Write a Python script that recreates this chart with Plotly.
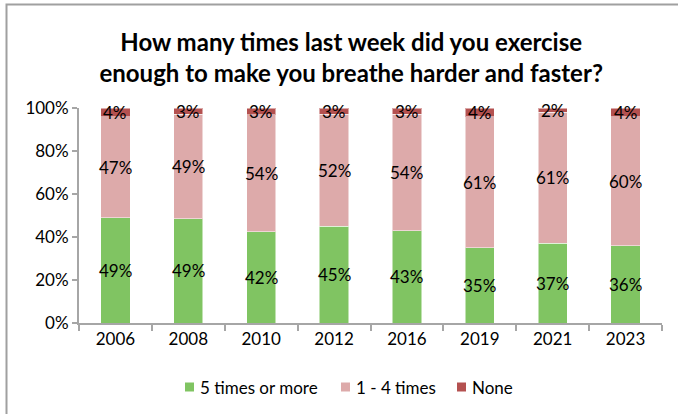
import plotly.graph_objects as go

years = ["2006", "2008", "2010", "2012", "2016", "2019", "2021", "2023"]
five_plus = [49, 49, 42, 45, 43, 35, 37, 36]
one_to_four = [47, 49, 54, 52, 54, 61, 61, 60]
none = [4, 3, 3, 3, 3, 4, 2, 4]

series = [
    ("5 times or more", five_plus, "#80C462"),
    ("1 - 4 times", one_to_four, "#DDAAAA"),
    ("None", none, "#B45150"),
]

FONT = "Lato, 'Open Sans', sans-serif"
W, H = 678, 414
ML, MR, MT, MB = 79, 16, 108, 91
PW, PH = W - ML - MR, H - MT - MB


def px_x(x):
    return (x - ML) / PW


def px_y(y):
    return 1 - (y - MT) / PH


fig = go.Figure()
for name, vals, color in series:
    fig.add_trace(go.Bar(
        name=name,
        x=years,
        y=vals,
        marker=dict(color=color, line=dict(color="rgba(255,255,255,0.5)", width=1)),
        hoverinfo="skip",
        showlegend=False,
    ))

# value labels centred on each stacked segment (stack is normalised to 100%);
# x is the category index on the category axis
annotations = []
for i, yr in enumerate(years):
    total = sum(s[1][i] for s in series)
    base = 0.0
    for name, vals, color in series:
        share = vals[i] / total * 100
        annotations.append(dict(
            x=i, y=base + share / 2, xref="x", yref="y",
            text=f"{vals[i]}%", showarrow=False,
            font=dict(family=FONT, size=17, color="black"),
            xanchor="center", yanchor="middle",
        ))
        base += share

# legend drawn as swatches + labels
legend_x = [185, 341, 457]
legend_y = 387
shapes = []
for (name, vals, color), lx in zip(series, legend_x):
    shapes.append(dict(
        type="rect", xref="paper", yref="paper",
        x0=px_x(lx), x1=px_x(lx + 9), y0=px_y(legend_y + 4.5), y1=px_y(legend_y - 4.5),
        fillcolor=color, line=dict(width=0),
    ))
    annotations.append(dict(
        x=px_x(lx + 13), y=px_y(legend_y), xref="paper", yref="paper",
        text=name, showarrow=False, xanchor="left", yanchor="middle",
        font=dict(family=FONT, size=17, color="black"),
    ))

# outer chart frame
shapes.append(dict(
    type="rect", xref="paper", yref="paper",
    x0=px_x(6.5), x1=px_x(700), y0=px_y(440), y1=px_y(4.5),
    line=dict(color="#A0A0A0", width=2), fillcolor="rgba(0,0,0,0)",
    layer="below",
))

fig.update_layout(
    width=W, height=H,
    margin=dict(l=ML, r=MR, t=MT, b=MB),
    barmode="stack",
    barnorm="percent",
    bargap=0.6,
    paper_bgcolor="white",
    plot_bgcolor="white",
    font=dict(family=FONT, size=17, color="black"),
    showlegend=False,
    title=dict(
        text="<b>How many times last week did you exercise<br>enough to make you breathe harder and faster?</b>",
        x=0.518, xanchor="center", y=1 - 51 / H, yanchor="middle",
        font=dict(family=FONT, size=24, color="black"),
    ),
    xaxis=dict(
        type="category",
        categoryarray=years,
        range=[-0.5, len(years) - 0.5],
        tickson="boundaries",
        ticks="outside", ticklen=6, tickcolor="#A6A6A6", tickwidth=2,
        showline=True, linecolor="#A6A6A6", linewidth=2,
        showgrid=False,
        tickfont=dict(family=FONT, size=17),
    ),
    yaxis=dict(
        range=[0, 100],
        tickvals=[0, 20, 40, 60, 80, 100],
        ticktext=["0%", "20%", "40%", "60%", "80%", "100%"],
        ticks="outside", ticklen=5, tickcolor="#A6A6A6", tickwidth=2,
        showline=True, linecolor="#A6A6A6", linewidth=2,
        showgrid=False, zeroline=False,
        tickfont=dict(family=FONT, size=17),
    ),
    annotations=annotations,
    shapes=shapes,
)

fig.write_html("out.html")
